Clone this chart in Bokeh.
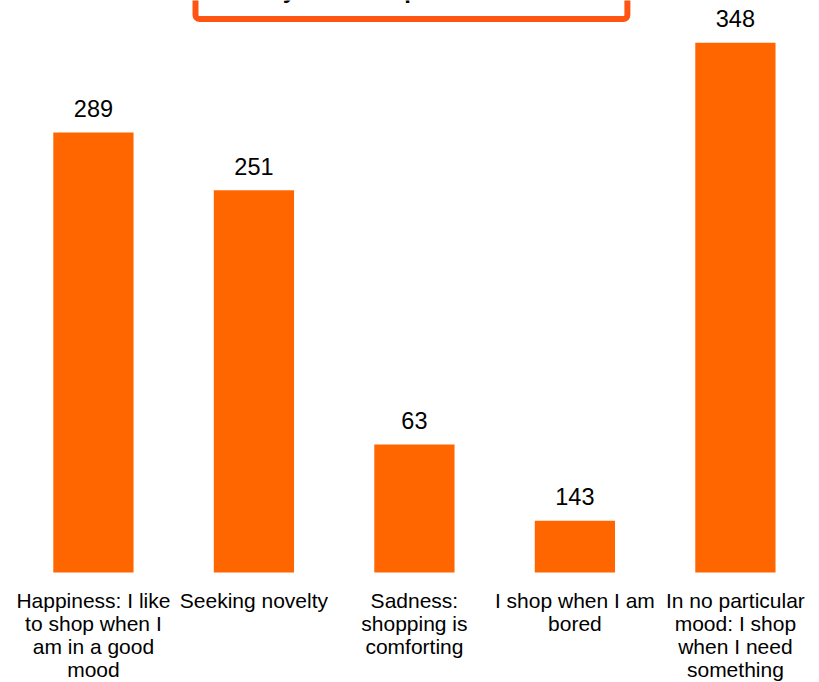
from bokeh.plotting import figure
from bokeh.models import ColumnDataSource, Range1d, BoxAnnotation
from bokeh.core.properties import value
from bokeh.embed import file_html
from bokeh.resources import INLINE

categories = [
    "Happiness: I like\nto shop when I\nam in a good\nmood",
    "Seeking novelty",
    "Sadness:\nshopping is\ncomforting",
    "I shop when I am\nbored",
    "In no particular\nmood: I shop\nwhen I need\nsomething",
]
bar_heights = [289, 251, 84, 34, 348]
value_labels = ["289", "251", "63", "143", "348"]
title_text = ["drives you to shop"]

BAR_COLOR = "#FF6600"
BOX_COLOR = "#FF5512"
FONT = "Liberation Sans"

xs = list(range(len(categories)))
src = ColumnDataSource(dict(x=xs, top=bar_heights, lab=value_labels,
                            cat=categories, zero=[0] * len(xs)))

p = figure(width=819, height=682, output_backend="svg", toolbar_location=None,
           x_range=Range1d(-0.579, 4.524), y_range=Range1d(-72.25, 375.7),
           x_axis_type=None, y_axis_type=None, min_border=0)
p.grid.visible = False
p.outline_line_color = None
p.background_fill_color = "white"
p.border_fill_color = "white"

p.vbar(x="x", top="top", bottom=0, width=0.5, source=src,
       fill_color=BAR_COLOR, line_color=None)

p.text(x="x", y="top", text="lab", source=src, text_align="center",
       text_baseline="alphabetic", y_offset=-24,
       text_font=value(FONT), text_font_size="23.5px", text_color="#000000")

p.text(x="x", y="zero", text="cat", source=src, text_align="center",
       text_baseline="top", y_offset=16, text_line_height=1.0,
       text_font=value(FONT), text_font_size="21px", text_color="#000000")

# title box (cropped at the top in the reference)
box = BoxAnnotation(left=0.636, right=3.327, bottom=363.55, top=430,
                    fill_alpha=0.0,
                    line_color=BOX_COLOR, line_alpha=1.0, line_width=6,
                    border_radius=4)
p.add_layout(box)

# bottom edge of the title, mostly cut off at the top of the picture
tsrc = ColumnDataSource(dict(x=[0.698], y=[370.0], t=title_text))
p.text(x="x", y="y", text="t", source=tsrc, text_align="left",
       text_baseline="alphabetic", y_offset=-20,
       text_font=value(FONT), text_font_style="bold",
       text_font_size="24px", text_color="#000000")

open("out.html", "w").write(file_html(p, INLINE))
